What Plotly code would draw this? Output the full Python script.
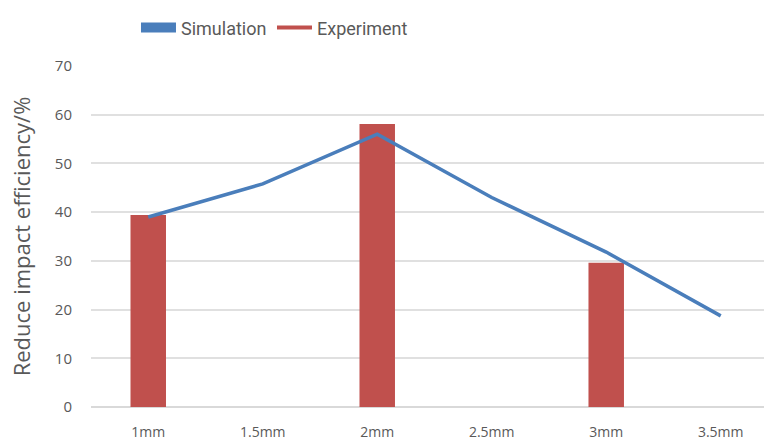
import plotly.graph_objects as go

categories = ["1mm", "1.5mm", "2mm", "2.5mm", "3mm", "3.5mm"]
simulation = [39.0, 45.8, 56.0, 43.0, 31.8, 18.7]
experiment = [39.4, None, 58.1, None, 29.6, None]
y_ticks = [0, 10, 20, 30, 40, 50, 60, 70]

BLUE = "#4a7ebb"
RED = "#c0504d"
GRAY = "#595959"
FONT = "Open Sans, sans-serif"

fig = go.Figure()
fig.add_trace(go.Bar(x=categories, y=experiment, marker=dict(color=RED, line=dict(width=0)),
                     width=0.31, showlegend=False))
fig.add_trace(go.Scatter(x=categories, y=simulation, mode="lines",
                         line=dict(color=BLUE, width=3.5), showlegend=False))
# legend entries (as in the reference)
fig.add_trace(go.Scatter(x=[None], y=[None], mode="lines", name="Simulation",
                         line=dict(color=BLUE, width=11)))
fig.add_trace(go.Scatter(x=[None], y=[None], mode="lines", name="Experiment",
                         line=dict(color=RED, width=4)))

fig.update_layout(
    width=764, height=441,
    margin=dict(l=91, r=0, t=66, b=34, autoexpand=False),
    plot_bgcolor="white", paper_bgcolor="white",
    font=dict(family=FONT, color=GRAY),
    legend=dict(orientation="h", xref="container", x=0.178, xanchor="left",
                yref="container", y=0.937, yanchor="middle",
                font=dict(size=18, color=GRAY, family="Roboto"), itemwidth=35,
                entrywidth=86, entrywidthmode="pixels",
                bgcolor="rgba(0,0,0,0)"),
)
fig.update_xaxes(type="category", range=[-0.5, 5.378], showgrid=False, automargin=False,
                 showline=False, ticks="", tickfont=dict(size=14, color=GRAY, family=FONT),
                 ticklabelstandoff=15)
fig.update_yaxes(range=[0, 70], tickvals=y_ticks, showgrid=True, gridcolor="#e0e0e0", gridwidth=1.5,
                 automargin=False,
                 zeroline=True, zerolinecolor="#d9d9d9", zerolinewidth=1.5,
                 tickfont=dict(size=15, color=GRAY, family=FONT), ticklabelstandoff=18,
                 title=dict(text="Reduce impact efficiency/%", font=dict(size=22, color=GRAY, family=FONT),
                            standoff=18))

fig.write_html("out.html", config={"displayModeBar": False},
               post_script="document.body.style.margin='0';")
